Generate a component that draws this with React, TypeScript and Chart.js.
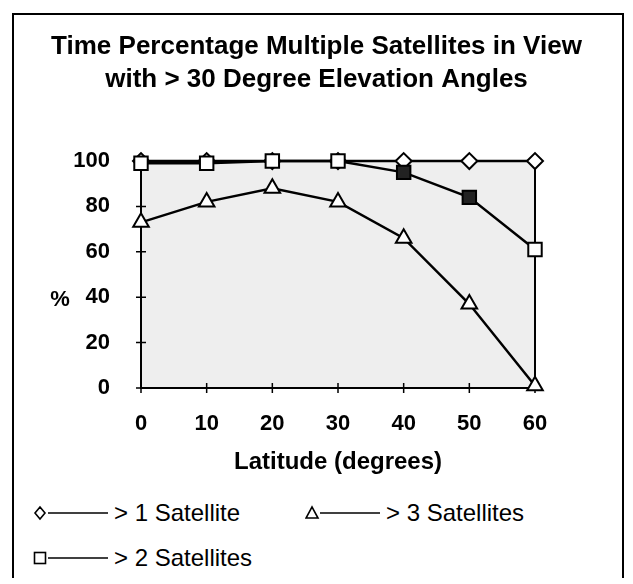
import React, { useEffect, useRef } from "react";
import { Chart, registerables } from "chart.js";

Chart.register(...registerables);

const latitudes = [0, 10, 20, 30, 40, 50, 60];
const oneSatellite = [100, 100, 100, 100, 100, 100, 100];
const twoSatellites = [99, 99, 100, 100, 95, 84, 61];
const threeSatellites = [73, 82, 88, 82, 66, 37, 1];
const titleLines = [
  "Time Percentage Multiple Satellites in View",
  "with > 30 Degree Elevation Angles",
];
const xTitle = "Latitude (degrees)";
const yTitle = "%";
const legendLabels = ["> 1 Satellite", "> 2 Satellites", "> 3 Satellites"];

const FONT = '"Liberation Sans", Arial, Helvetica, sans-serif';

const decor = {
  id: "decor",
  beforeDraw(chart: any) {
    const { ctx, chartArea: a } = chart;
    ctx.save();
    ctx.fillStyle = "#eeeeee";
    ctx.fillRect(a.left, a.top, a.right - a.left, a.bottom - a.top);
    ctx.restore();
  },
  beforeDatasetsDraw(chart: any) {
    const { ctx, chartArea: a, scales } = chart;
    ctx.save();
    ctx.strokeStyle = "#000";
    ctx.lineWidth = 2;
    ctx.beginPath();
    ctx.moveTo(a.right, a.top);
    ctx.lineTo(a.right, a.bottom);
    ctx.stroke();
    ctx.lineWidth = 1;
    ctx.beginPath();
    ctx.moveTo(a.left, a.top);
    ctx.lineTo(a.right, a.top);
    ctx.stroke();
    ctx.lineWidth = 1.5;
    ctx.beginPath();
    scales.x.ticks.forEach((t: any) => {
      const px = scales.x.getPixelForValue(t.value);
      ctx.moveTo(px, a.bottom - 5);
      ctx.lineTo(px, a.bottom + 5);
    });
    scales.y.ticks.forEach((t: any) => {
      const py = scales.y.getPixelForValue(t.value);
      ctx.moveTo(a.left - 5, py);
      ctx.lineTo(a.left + 5, py);
    });
    ctx.stroke();
    ctx.fillStyle = "#000";
    ctx.font = `bold 22px ${FONT}`;
    ctx.textAlign = "center";
    ctx.textBaseline = "middle";
    ctx.fillText(yTitle, 52, scales.y.getPixelForValue(40) + 3);
    ctx.restore();
  },
};

function pts(values: number[]) {
  return latitudes.map((x, i) => ({ x, y: values[i] }));
}

function Symbol({ kind }: { kind: string }) {
  let shape: any;
  if (kind === "diamond")
    shape = <polygon points="7,4 12,10 7,16 2,10" fill="#fff" stroke="#000" strokeWidth="1.6" />;
  else if (kind === "square")
    shape = <rect x="1.5" y="4.5" width="11" height="11" fill="#fff" stroke="#000" strokeWidth="1.6" />;
  else shape = <polygon points="7,4 13,15 1,15" fill="#fff" stroke="#000" strokeWidth="1.6" />;
  return (
    <svg width="79" height="20" style={{ display: "block" }}>
      {shape}
      <line x1="15" y1="10" x2="75" y2="10" stroke="#000" strokeWidth="1.6" />
    </svg>
  );
}

function LegendItem({ left, cy, kind, label }: any) {
  return (
    <div
      style={{
        position: "absolute",
        left,
        top: cy - 14,
        height: 28,
        display: "flex",
        alignItems: "center",
        fontFamily: FONT,
        fontSize: 24,
        lineHeight: "28px",
        whiteSpace: "nowrap",
        color: "#000",
      }}
    >
      <Symbol kind={kind} />
      <span style={{ marginLeft: 2 }}>{label}</span>
    </div>
  );
}

export default function App() {
  const ref = useRef<HTMLCanvasElement>(null);

  useEffect(() => {
    if (!ref.current) return;
    Chart.defaults.font.family = FONT;
    const chart = new Chart(ref.current, {
      type: "line",
      data: {
        datasets: [
          {
            label: legendLabels[1],
            data: pts(twoSatellites),
            borderColor: "#000",
            borderWidth: 2.5,
            pointStyle: "rect",
            pointRadius: 9.5,
            pointBorderWidth: 2,
            pointBorderColor: "#000",
            pointBackgroundColor: ["#fff", "#fff", "#fff", "#fff", "#222", "#222", "#fff"],
            order: 0,
            clip: false as any,
          },
          {
            label: legendLabels[2],
            data: pts(threeSatellites),
            borderColor: "#000",
            borderWidth: 2.5,
            pointStyle: "triangle",
            pointRadius: 9,
            pointBorderWidth: 2,
            pointBorderColor: "#000",
            pointBackgroundColor: "#fff",
            order: 1,
            clip: false as any,
          },
          {
            label: legendLabels[0],
            data: pts(oneSatellite),
            borderColor: "#000",
            borderWidth: 2.5,
            pointStyle: "rectRot",
            pointRadius: 8,
            pointBorderWidth: 2,
            pointBorderColor: "#000",
            pointBackgroundColor: "#fff",
            order: 2,
            clip: false as any,
          },
        ],
      },
      options: {
        animation: false,
        responsive: false,
        layout: { padding: 0 },
        plugins: {
          legend: { display: false },
          tooltip: { enabled: false },
          title: {
            display: true,
            text: titleLines,
            color: "#000",
            font: { size: 26, weight: "bold", family: FONT, lineHeight: 1.27 },
            padding: { top: 22, bottom: 65 },
          },
        },
        scales: {
          x: {
            type: "linear",
            min: 0,
            max: 60,
            grid: { display: false, drawTicks: false },
            border: { display: true, color: "#000", width: 2 },
            ticks: {
              stepSize: 10,
              color: "#000",
              padding: 23,
              font: { size: 22, weight: "bold", family: FONT },
            },
            title: {
              display: true,
              text: xTitle,
              color: "#000",
              font: { size: 24, weight: "bold", family: FONT },
              padding: { top: 0, bottom: 11 },
            },
            afterFit: (s: any) => {
              s.height = 100;
            },
          },
          y: {
            min: 0,
            max: 100,
            grid: { display: false, drawTicks: false },
            border: { display: true, color: "#000", width: 2 },
            ticks: {
              stepSize: 20,
              color: "#000",
              padding: 31,
              font: { size: 22, weight: "bold", family: FONT },
            },
            afterFit: (s: any) => {
              s.width = 133;
            },
          },
          y2: {
            position: "right",
            display: true,
            grid: { display: false, drawTicks: false },
            border: { display: false },
            ticks: { display: false },
            afterFit: (s: any) => {
              s.width = 90;
            },
          },
        },
      } as any,
      plugins: [decor],
    });
    return () => chart.destroy();
  }, []);

  return (
    <div style={{ position: "relative", width: 617, height: 570 }}>
      <div
        style={{
          position: "absolute",
          left: 4,
          top: 5,
          width: 612,
          height: 565,
          boxSizing: "border-box",
          borderLeft: "2px solid #000",
          borderTop: "2px solid #000",
          borderRight: "2px solid #000",
        }}
      />
      <canvas
        ref={ref}
        width={617}
        height={480}
        style={{ position: "absolute", left: 0, top: 0, width: 617, height: 480 }}
      />
      <LegendItem left={25} cy={505} kind="diamond" label={legendLabels[0]} />
      <LegendItem left={297} cy={505} kind="triangle" label={legendLabels[2]} />
      <LegendItem left={25} cy={550} kind="square" label={legendLabels[1]} />
    </div>
  );
}
